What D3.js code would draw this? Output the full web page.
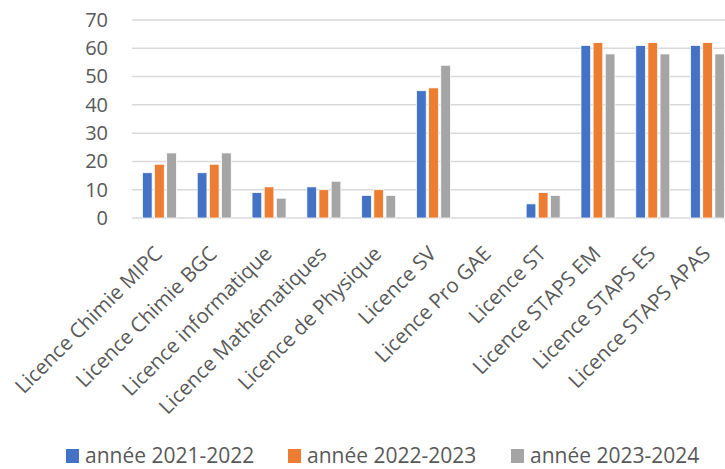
<!DOCTYPE html>
<html><head><meta charset="utf-8">
<script src="https://cdn.jsdelivr.net/npm/d3@7"></script>
<style>body{margin:0;background:#fff}svg{display:block}text{font-family:"Open Sans",sans-serif;fill:#595959}</style>
</head><body><svg id="c" width="725" height="469"></svg>
<script>
const categories = ["Licence Chimie MIPC","Licence Chimie BGC","Licence informatique","Licence Mathématiques","Licence de Physique","Licence SV","Licence Pro GAE","Licence ST","Licence STAPS EM","Licence STAPS ES","Licence STAPS APAS"];
const seriesNames = ["année 2021-2022","année 2022-2023","année 2023-2024"];
const s2021 = [16,16,9,11,8,45,0,5,61,61,61];
const s2022 = [19,19,11,10,10,46,0,9,62,62,62];
const s2023 = [23,23,7,13,8,54,0,8,58,58,58];
const colors = ["#4472C4","#ED7D31","#A5A5A5"];
const yTicks = [0,10,20,30,40,50,60,70];

const series = [s2021,s2022,s2023];
const svg = d3.select("#c");
const x0 = d3.scaleBand().domain(categories).range([132,735]).paddingInner(0.38).paddingOuter(0.19);
const x1 = d3.scaleBand().domain(seriesNames).range([0,x0.bandwidth()]).paddingInner(0.2);
const y = d3.scaleLinear().domain([0,70]).range([218,20]);

const grid = svg.append("g");
grid.selectAll("line").data(yTicks).join("line")
  .attr("x1",132).attr("x2",735).attr("y1",d=>y(d)).attr("y2",d=>y(d))
  .attr("stroke","#D9D9D9").attr("stroke-width",1.5);

const yAxis = svg.append("g").attr("transform","translate(132,0)")
  .call(d3.axisLeft(y).tickValues(yTicks).tickSize(0).tickPadding(24));
yAxis.select(".domain").remove();
yAxis.selectAll("text").style("font-size","20px").attr("fill","#595959");

const groups = svg.append("g").selectAll("g").data(categories).join("g")
  .attr("transform",d=>`translate(${x0(d)},0)`);
groups.selectAll("rect").data((d,i)=>series.map((s,j)=>({k:seriesNames[j],v:s[i],c:colors[j]}))).join("rect")
  .attr("x",d=>x1(d.k)).attr("width",x1.bandwidth())
  .attr("y",d=>y(d.v)).attr("height",d=>y(0)-y(d.v))
  .attr("fill",d=>d.c).attr("stroke","#fff").attr("stroke-width",0.75);

const xAxis = svg.append("g").attr("transform","translate(0,218)")
  .call(d3.axisBottom(x0).tickSize(0).tickPadding(0));
xAxis.select(".domain").remove();
xAxis.selectAll("text").style("font-size","20.5px").attr("fill","#595959")
  .attr("text-anchor","end").attr("dy",null).attr("y",0)
  .attr("transform","translate(4,37) rotate(-45)");

const leg = svg.append("g");
const legX = [66,288,511];
seriesNames.forEach((n,i)=>{
  leg.append("rect").attr("x",legX[i]).attr("y",449).attr("width",13).attr("height",14).attr("fill",colors[i]);
  leg.append("text").attr("x",legX[i]+19).attr("y",463).style("font-size","21px").text(n);
});
</script></body></html>
